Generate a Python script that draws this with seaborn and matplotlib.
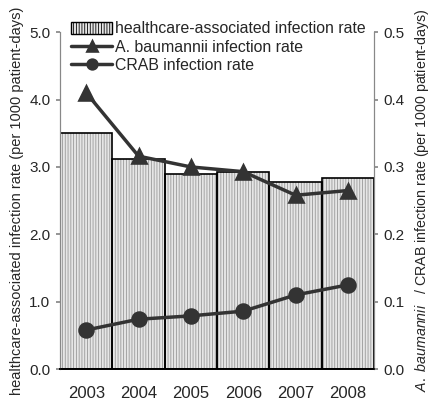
import pandas as pd
import seaborn as sns
import matplotlib.pyplot as plt

sns.set_theme(style='white')
plt.rcParams['font.family'] = ['Liberation Sans', 'DejaVu Sans']
plt.rcParams['mathtext.fontset'] = 'custom'
plt.rcParams['mathtext.it'] = 'Liberation Sans:italic'
plt.rcParams['mathtext.rm'] = 'Liberation Sans'
plt.rcParams['hatch.linewidth'] = 0.6

years = ['2003', '2004', '2005', '2006', '2007', '2008']
hai_rate = [3.50, 3.12, 2.89, 2.92, 2.78, 2.83]
ab_rate = [0.410, 0.316, 0.300, 0.293, 0.258, 0.265]
crab_rate = [0.058, 0.074, 0.079, 0.086, 0.110, 0.125]

df = pd.DataFrame({'year': years, 'hai': hai_rate,
                   'ab': ab_rate, 'crab': crab_rate})

fig = plt.figure(figsize=(4.32, 4.18), dpi=100)
ax = fig.add_axes([0.139, 0.117, 0.727, 0.806])

# hatched fill first, then black outlines on top
sns.barplot(x='year', y='hai', data=df, order=years, width=1.0,
            color='#e6e6e6', saturation=1, edgecolor='#999999',
            linewidth=0, hatch='||||||', ax=ax)
sns.barplot(x='year', y='hai', data=df, order=years, width=1.0,
            fill=False, edgecolor='black', linewidth=1.2, ax=ax)

ax.set_ylim(0, 5.0)
ax.set_xlim(-0.5, 5.5)
ax.set_yticks([0, 1, 2, 3, 4, 5])
ax.set_yticklabels(['%.1f' % v for v in [0, 1, 2, 3, 4, 5]])
ax.set_xlabel('')
ax.set_ylabel('healthcare-associated infection rate (per 1000 patient-days)',
              fontsize=10.5, labelpad=4)
ax.tick_params(axis='y', direction='out', length=3, color='#888888',
               labelsize=11, left=True, pad=4)
ax.tick_params(axis='x', length=0, labelsize=12, pad=12)

ax2 = ax.twinx()
sns.pointplot(x='year', y='ab', data=df, order=years, color='#333333',
              markers='^', markersize=10, linewidth=2.5, errorbar=None,
              ax=ax2)
sns.pointplot(x='year', y='crab', data=df, order=years, color='#333333',
              markers='o', markersize=10, linewidth=2.5, errorbar=None,
              ax=ax2)
ax2.set_ylim(0, 0.5)
ax2.set_yticks([0, 0.1, 0.2, 0.3, 0.4, 0.5])
ax2.set_yticklabels(['%.1f' % v for v in [0, 0.1, 0.2, 0.3, 0.4, 0.5]])
ax2.set_xlabel('')
ax2.set_ylabel(r'$\it{A.\ baumannii}$   / CRAB infection rate '
               '(per 1000 patient-days)', fontsize=10.3, labelpad=6)
ax2.tick_params(axis='y', direction='out', length=3, color='#888888',
                labelsize=11, right=True, pad=4)

for a in (ax, ax2):
    a.spines['top'].set_visible(False)
    a.spines['left'].set_color('#888888')
    a.spines['right'].set_color('#888888')
    a.spines['bottom'].set_color('black')
    a.spines['left'].set_linewidth(0.8)
    a.spines['right'].set_linewidth(0.8)

handles = [ax.patches[0], ax2.lines[0], ax2.lines[1]]
labels = ['healthcare-associated infection rate',
          'A. baumannii infection rate', 'CRAB infection rate']
leg = ax2.legend(handles, labels, loc='upper left',
                 bbox_to_anchor=(0.0, 1.065), frameon=False, fontsize=11.4,
                 handlelength=2.6, handleheight=0.8, handletextpad=0.15,
                 labelspacing=0.2, borderaxespad=0.3, markerscale=0.7)
leg.legend_handles[0].set_edgecolor('black')
leg.legend_handles[0].set_linewidth(1.0)

fig.savefig('out.png', dpi=100)
